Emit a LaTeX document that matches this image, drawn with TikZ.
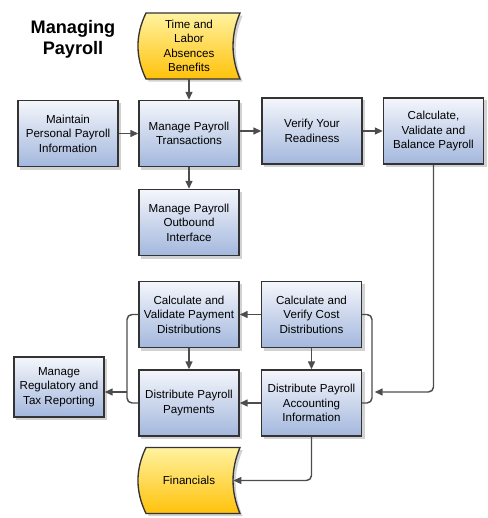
\documentclass[tikz,border=0pt]{standalone}
\usepackage{fontspec}
\setmainfont{Liberation Sans}
\usetikzlibrary{arrows.meta,backgrounds}

\definecolor{boxtop}{HTML}{F4F6FB}
\definecolor{boxbot}{HTML}{A3B7DD}
\definecolor{boxline}{HTML}{333333}
\definecolor{datatop}{HTML}{FFF2A0}
\definecolor{databot}{HTML}{FFC20A}
\definecolor{connc}{HTML}{4D4D4D}
\definecolor{shadowc}{HTML}{D2D2D2}

\tikzset{
  box/.style={draw=boxline,line width=1pt,top color=boxtop,bottom color=boxbot,
              minimum width=75pt,minimum height=49.5pt,inner sep=0.5pt,align=center},
  data/.style={minimum width=66pt,minimum height=49.5pt,inner sep=0.5pt,align=center},
  title/.style={align=center,font=\fontsize{13.6pt}{15.5pt}\selectfont\bfseries},
  conn/.style={draw=connc,line width=1.1pt,rounded corners=3.75pt,
               -{Triangle[length=6pt,width=5.2pt]}},
  bus/.style={draw=connc,line width=1.1pt,rounded corners=3.75pt}
}

% 黄色“存储数据”形状（左凸右凹）及其阴影，#1 = 中心
\newcommand\datashape[1]{%
  \begin{scope}[shift={#1}]
    \fill[shadowc,xshift=2pt,yshift=-2pt]
      (-43,-33) -- (51,-33) .. controls (41.7,-11) and (41.7,11) .. (51,33)
      -- (-43,33) .. controls (-53.7,11) and (-53.7,-11) .. (-43,-33) -- cycle;
    \shadedraw[top color=datatop,bottom color=databot,draw=boxline,line width=1pt]
      (-43,-33) -- (51,-33) .. controls (41.7,-11) and (41.7,11) .. (51,33)
      -- (-43,33) .. controls (-53.7,11) and (-53.7,-11) .. (-43,-33) -- cycle;
  \end{scope}}

\begin{document}
\begin{tikzpicture}[x=0.75pt,y=-0.75pt,line cap=butt,line join=miter,
                    every node/.style={font=\fontsize{8.7pt}{10.9pt}\selectfont}]
% ---- 坐标（px，原点=位图左上角，y 向下） ----
\node[title] (title) at (73,39) {Managing\\Payroll};
% ---- 数据形状 ----
\datashape{(189,46)}
\node[data] (time) at (189,46) {Time and\\Labor\\Absences\\Benefits};
\datashape{(189,480.5)}
\node[data] (fin) at (189,480.5) {Financials};
% ---- 流程框 ----
\node[box] (maint)  at (68,133.5)   {Maintain\\Personal Payroll\\Information};
\node[box] (trans)  at (189,133.5)  {Manage Payroll\\Transactions};
\node[box] (outb)   at (189,222.5)  {Manage Payroll\\Outbound\\Interface};
\node[box] (verify) at (312,131)    {Verify Your\\Readiness};
\node[box] (calc)   at (433.5,131)  {Calculate,\\Validate and\\Balance Payroll};
\node[box] (valid)  at (189,314.5)  {Calculate and\\Validate Payment\\Distributions};
\node[box] (cost)   at (311.5,314.5){Calculate and\\Verify Cost\\Distributions};
\node[box] (pay)    at (189,403)    {Distribute Payroll\\Payments};
\node[box] (acct)   at (311.5,403)  {Distribute Payroll\\Accounting\\Information};
\node[box,minimum width=67.5pt,minimum height=45pt] (regul) at (59,387) {Manage\\Regulatory and\\Tax Reporting};
% ---- 阴影（背景层，右下偏移 2pt） ----
\begin{scope}[on background layer]
  \foreach \n in {maint,trans,outb,verify,calc,valid,cost,pay,acct,regul}
    \fill[shadowc] ([shift={(2pt,-2pt)}]\n.south west) rectangle ([shift={(2pt,-2pt)}]\n.north east);
\end{scope}
% ---- 汇流点 ----
\coordinate (rbus) at (372,392);
\coordinate (lbus) at (127,392);
% ---- 连线 ----
\draw[conn] (time) -- (trans);
\draw[conn] (maint) -- (trans);
\draw[conn] (trans) -- (outb);
\draw[conn] (verify.west -| trans.east) -- (verify.west);
\draw[conn] (verify) -- (calc);
\draw[bus] (cost.east) -| (rbus) |- (acct.east);     % 右侧括线
\draw[conn] (calc.south) |- ([xshift=2pt]rbus);
\draw[conn] (cost) -- (valid);
\draw[conn] (cost) -- (acct);
\draw[conn] (acct) -- (pay);
\draw[conn] (valid) -- (pay);
\draw[bus] (valid.west) -| (lbus) |- (pay.west);     % 左侧括线
\draw[conn] (lbus) -- (lbus -| regul.east);
\draw[conn] (acct.south) |- (fin.east);
% ---- 画布 488x518 px ----
\path[use as bounding box] (0,0) rectangle (488,518);
\end{tikzpicture}
\end{document}
